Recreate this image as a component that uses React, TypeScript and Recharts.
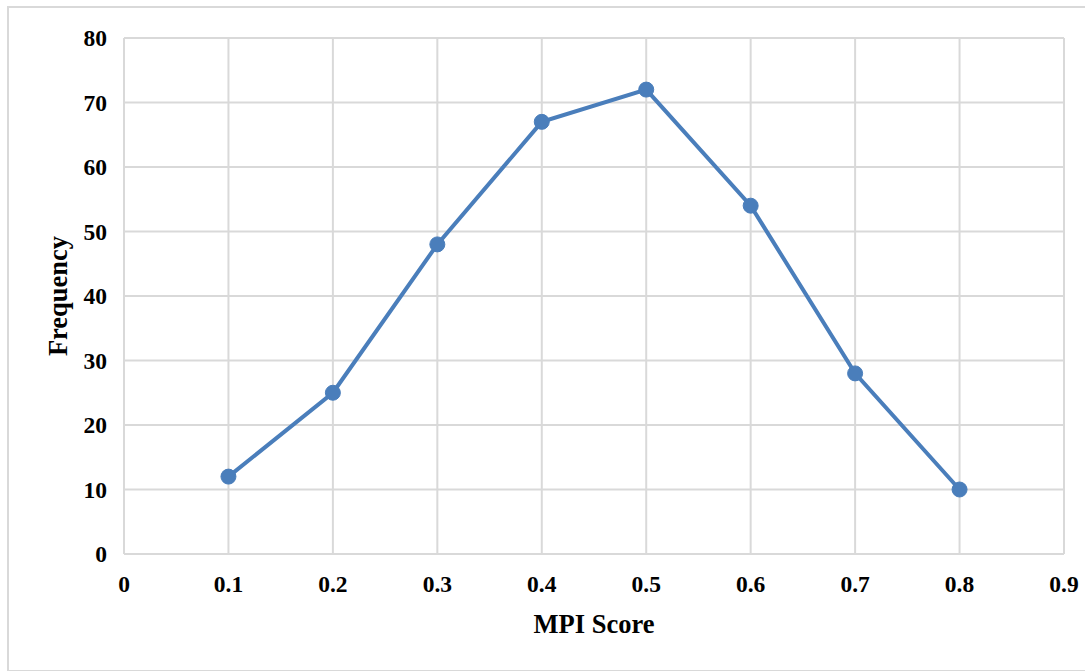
import { LineChart, Line, XAxis, YAxis, CartesianGrid, Label } from 'recharts'

const scores = [0.1, 0.2, 0.3, 0.4, 0.5, 0.6, 0.7, 0.8]
const frequency = [12, 25, 48, 67, 72, 54, 28, 10]
const xTicks = [0, 0.1, 0.2, 0.3, 0.4, 0.5, 0.6, 0.7, 0.8, 0.9]
const yTicks = [0, 10, 20, 30, 40, 50, 60, 70, 80]

const data = scores.map((s, i) => ({ score: s, frequency: frequency[i] }))

const GRID = '#d9d9d9'
const LINE = '#4a7ebb'
const FONT = '"Liberation Serif", "Times New Roman", serif'

const tickStyle = { fontFamily: FONT, fontWeight: 700, fontSize: 23.5, fill: '#000' }
const titleStyle = { fontFamily: FONT, fontWeight: 700, fontSize: 26.5, fill: '#000' }

export default function App() {
  return (
    <div style={{ position: 'absolute', left: 0, top: 0, width: 1085, height: 671, background: '#fff' }}>
      <div
        style={{
          position: 'absolute',
          left: 7,
          top: 6,
          width: 1100,
          height: 662,
          borderLeft: `2px solid ${GRID}`,
          borderTop: `2px solid ${GRID}`,
          borderBottom: `2px solid ${GRID}`,
        }}
      />
      <div style={{ position: 'absolute', left: 0, top: 0 }}>
        <LineChart
          width={1085}
          height={671}
          data={data}
          margin={{ top: 38, right: 21, bottom: 27, left: 0 }}
        >
          <CartesianGrid stroke={GRID} strokeWidth={2} />
          <XAxis
            dataKey="score"
            type="number"
            domain={[0, 0.9]}
            ticks={xTicks}
            height={90}
            tickLine={false}
            tickSize={0}
            tickMargin={21}
            axisLine={{ stroke: GRID, strokeWidth: 2 }}
            tick={tickStyle}
            tickFormatter={(v: number) => String(v)}
          >
            <Label value="MPI Score" position="insideBottom" offset={11} style={titleStyle} />
          </XAxis>
          <YAxis
            type="number"
            domain={[0, 80]}
            ticks={yTicks}
            width={124}
            tickLine={false}
            tickSize={0}
            tickMargin={17}
            axisLine={{ stroke: GRID, strokeWidth: 2 }}
            tick={tickStyle}
          >
            <Label
              content={({ viewBox }: any) => {
                const cx = viewBox.x + 58
                const cy = viewBox.y + viewBox.height / 2
                return (
                  <text
                    x={cx}
                    y={cy}
                    transform={`rotate(-90 ${cx} ${cy})`}
                    textAnchor="middle"
                    dominantBaseline="central"
                    style={titleStyle}
                  >
                    Frequency
                  </text>
                )
              }}
            />
          </YAxis>
          <Line
            type="linear"
            dataKey="frequency"
            stroke={LINE}
            strokeWidth={4}
            dot={{ r: 7.5, fill: LINE, stroke: LINE, strokeWidth: 1 }}
            activeDot={false}
            isAnimationActive={false}
          />
        </LineChart>
      </div>
    </div>
  )
}
